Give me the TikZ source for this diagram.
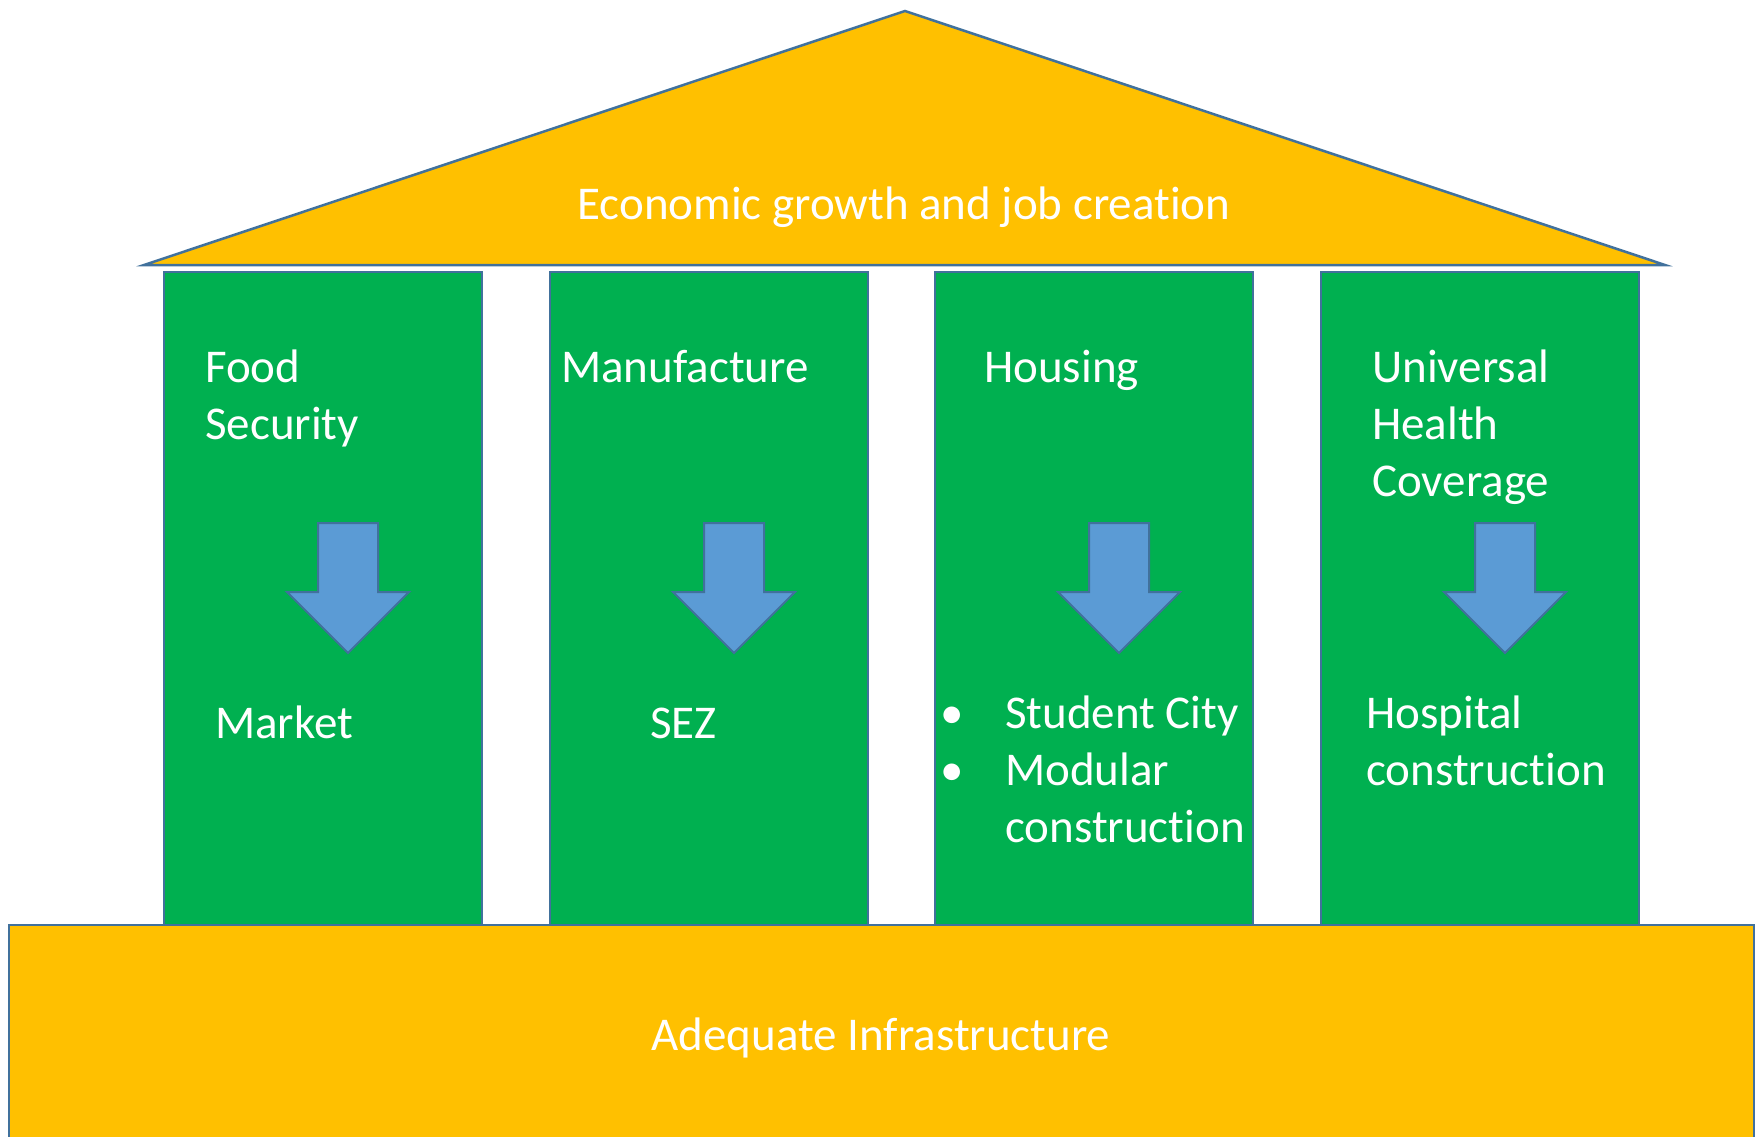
\documentclass[tikz,border=0pt]{standalone}
\usepackage{fontspec}
\setmainfont{Carlito}[Ligatures=NoCommon]
\usepackage{tikz}

\definecolor{roofyellow}{HTML}{FFC000}
\definecolor{pillargreen}{HTML}{00B050}
\definecolor{arrowblue}{HTML}{5B9BD5}
\definecolor{edgeblue}{HTML}{41719C}

\begin{document}
\begin{tikzpicture}[x=1pt, y=-1pt, every node/.style={text=white, inner sep=0pt, align=left, font=\fontsize{47}{57}\selectfont}, roof/.style={fill=roofyellow, draw=edgeblue, line width=2.5pt}, pillar/.style={fill=pillargreen, draw=edgeblue, line width=2pt}, plinth/.style={fill=roofyellow, draw=edgeblue, line width=2.5pt}, blockarrow/.style={fill=arrowblue, draw=edgeblue, line width=2pt}, pics/downarrow/.style={code={\draw[blockarrow] (-30,0) -- (30,0) -- (30,69) -- (61,69) -- (0,130) -- (-61,69) -- (-30,69) -- cycle;}}]
        \useasboundingbox (0,0) rectangle (1758,1137);
        \clip (0,0) rectangle (1758,1137);

        % roof
        \draw[roof] (144,265) -- (905,11) -- (1665,265) -- cycle;

        % pillars with their arrows
        \foreach \x in {164,550,935,1321} {
            \draw[pillar] (\x,272) rectangle ++(318,660);
            \pic at (\x+184,523) {downarrow};
        }

        % base
        \draw[plinth] (9,925) rectangle (1754,1170);

        % texts (base = last line)
        \node[anchor=base] (title) at (904,219) {Economic growth and job creation};
        \node[anchor=base west] (food) at (205,439) {Food\\Security};
        \node[anchor=base west] (manuf) at (561,382) {Manufacture};
        \node[anchor=base west] (housing) at (984,382) {Housing};
        \node[anchor=base west] (health) at (1372,496) {Universal\\Health\\Coverage};
        \node[anchor=base west] (market) at (215,738) {Market};
        \node[anchor=base west] (sez) at (650,738) {SEZ};
        \node[anchor=base west] (homes) at (940,842) {\makebox[65pt][l]{•}Student City\\\makebox[65pt][l]{•}Modular\\\hspace*{65pt}construction};
        \node[anchor=base west] (hospital) at (1366,785) {Hospital\\construction};
        \node[anchor=base] (infra) at (881,1050) {Adequate Infrastructure};
    \end{tikzpicture}
\end{document}
